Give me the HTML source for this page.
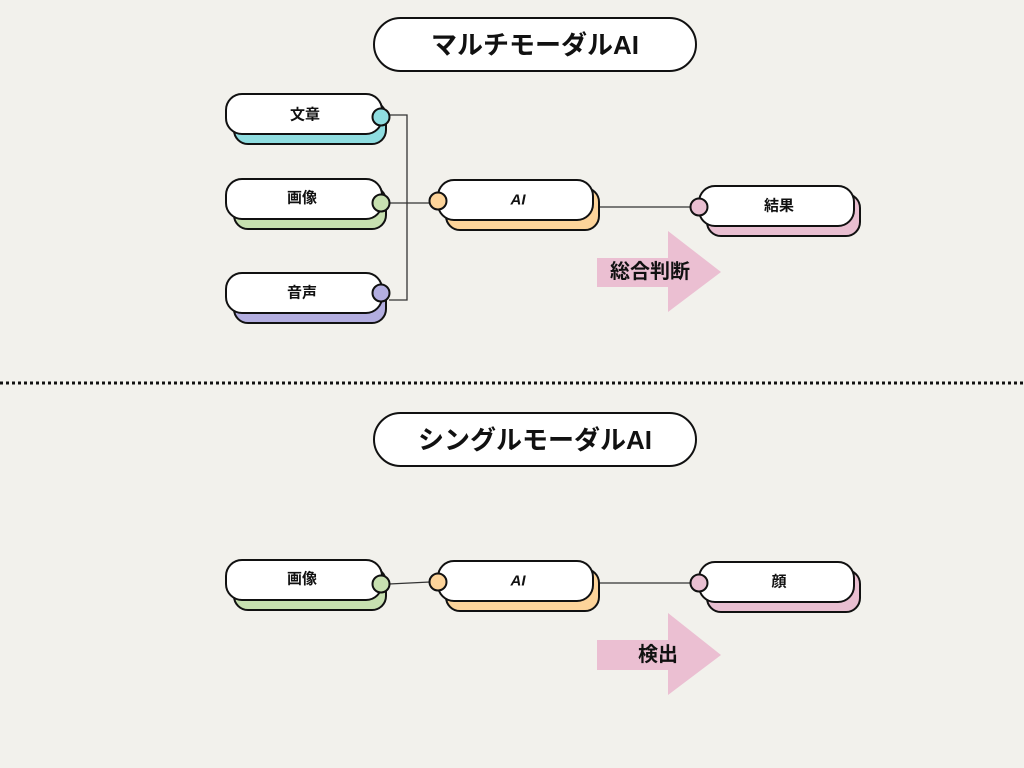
<!DOCTYPE html>
<html><head><meta charset="utf-8"><style>
body{margin:0;background:#f2f1ec;}
svg{display:block}
text{font-family:"Liberation Sans","Noto Sans CJK JP",sans-serif;font-weight:bold;fill:#111;text-anchor:middle;dominant-baseline:central}
</style></head><body>
<svg width="1024" height="768" viewBox="0 0 1024 768">
<rect width="1024" height="768" fill="#f2f1ec"/>
<g stroke="#111" stroke-width="2">
<rect x="374" y="18" width="322" height="53" rx="26.5" fill="#fff"/>
<rect x="374" y="413" width="322" height="53" rx="26.5" fill="#fff"/>
</g>
<text x="535" y="45" font-size="26">マルチモーダルAI</text>
<text x="535" y="440" font-size="26">シングルモーダルAI</text>
<line x1="0" y1="383" x2="1024" y2="383" stroke="#111" stroke-width="3" stroke-dasharray="3,3"/>
<g stroke="#333" stroke-width="1.3" fill="none">
<polyline points="389,115 407,115 407,300 389,300"/>
<line x1="389" y1="203" x2="430" y2="203"/>
<line x1="599" y1="207" x2="691" y2="207"/>
<line x1="389" y1="584" x2="430" y2="582"/>
<line x1="599" y1="583" x2="691" y2="583"/>
</g>
<g fill="#ebbfd2">
<rect x="597" y="258" width="72" height="29"/><polygon points="668,231 721,272 668,312"/>
<rect x="597" y="640" width="72" height="30"/><polygon points="668,613 721,655 668,695"/>
</g>
<text x="650" y="272" font-size="20">総合判断</text>
<text x="658" y="655" font-size="20">検出</text>
<g stroke="#111" stroke-width="2">
<rect x="234" y="102" width="152" height="42" rx="14" fill="#8fdde0"/>
<rect x="226" y="94" width="156" height="40" rx="16" fill="#fff"/>
<circle cx="381" cy="117" r="8.5" fill="#8fdde0"/>
<rect x="234" y="187" width="152" height="42" rx="14" fill="#c7e0b0"/>
<rect x="226" y="179" width="156" height="40" rx="16" fill="#fff"/>
<circle cx="381" cy="203" r="8.5" fill="#c7e0b0"/>
<rect x="234" y="281" width="152" height="42" rx="14" fill="#b3aee0"/>
<rect x="226" y="273" width="156" height="40" rx="16" fill="#fff"/>
<circle cx="381" cy="293" r="8.5" fill="#b3aee0"/>
<rect x="446" y="188" width="153" height="42" rx="14" fill="#fdd49a"/>
<rect x="438" y="180" width="155" height="40" rx="16" fill="#fff"/>
<circle cx="438" cy="201" r="8.5" fill="#fdd49a"/>
<rect x="707" y="194" width="153" height="42" rx="14" fill="#e9bfd1"/>
<rect x="699" y="186" width="155" height="40" rx="16" fill="#fff"/>
<circle cx="699" cy="207" r="8.5" fill="#e9bfd1"/>
<rect x="234" y="568" width="152" height="42" rx="14" fill="#c7e0b0"/>
<rect x="226" y="560" width="156" height="40" rx="16" fill="#fff"/>
<circle cx="381" cy="584" r="8.5" fill="#c7e0b0"/>
<rect x="446" y="569" width="153" height="42" rx="14" fill="#fdd49a"/>
<rect x="438" y="561" width="155" height="40" rx="16" fill="#fff"/>
<circle cx="438" cy="582" r="8.5" fill="#fdd49a"/>
<rect x="707" y="570" width="153" height="42" rx="14" fill="#e9bfd1"/>
<rect x="699" y="562" width="155" height="40" rx="16" fill="#fff"/>
<circle cx="699" cy="583" r="8.5" fill="#e9bfd1"/>
</g>
<g font-size="15">
<text x="305" y="115">文章</text>
<text x="302" y="198">画像</text>
<text x="302" y="293">音声</text>
<text x="518" y="200" font-style="italic">AI</text>
<text x="779" y="206">結果</text>
<text x="302" y="579">画像</text>
<text x="518" y="581" font-style="italic">AI</text>
<text x="779" y="582">顔</text>
</g>
</svg>
</body></html>
